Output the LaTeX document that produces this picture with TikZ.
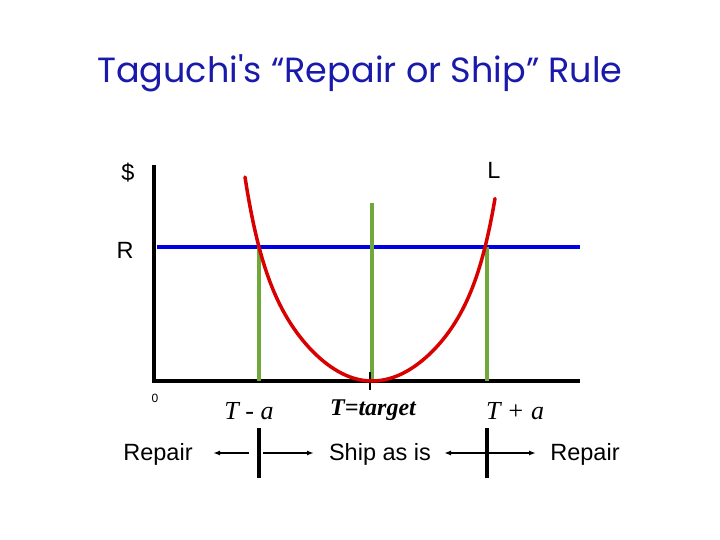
\documentclass[tikz,border=0pt]{standalone}
\usetikzlibrary{arrows.meta}
\usepackage{fontspec}
\setmainfont{Liberation Sans}
\newfontfamily\ttl{Poppins}
\newfontfamily\srf{Liberation Serif}
\begin{document}
\begin{tikzpicture}[x=1pt,y=-1pt,
  lbl/.style={font=\fontsize{23.5}{26}\selectfont},
  mth/.style={font=\srf\itshape\fontsize{26}{28}\selectfont},
  arr/.style={-{Latex[length=7pt,width=5pt]},line width=1.5pt},
  bar/.style={line width=3.5pt}]
\useasboundingbox (0,0) rectangle (720,540);
\node (title) at (360,73) {\ttl\fontsize{35}{40}\selectfont\color[RGB]{25,25,170}Taguchi's “Repair or Ship” Rule};
% axes
\coordinate (o) at (154,381);
\coordinate (ytop) at (154,165);
\coordinate (xend) at (580,381);
\draw[line width=4pt] (ytop) -- (o) -- (xend);
% blue line
\coordinate (r0) at (157,247); \coordinate (r1) at (580,247);
\draw[line width=3.5pt,color={rgb,255:red,0;green,0;blue,230}] (r0) -- (r1);
% green lines
\begin{scope}[line width=3.5pt,color={rgb,255:red,112;green,168;blue,60}]
\draw (259,247) -- (259,381);
\draw (372,203) -- (372,381);
\draw (487,247) -- (487,381);
\end{scope}
\draw[line width=2pt] (370,372) -- (370,390);
% red curve
\draw[line width=3.5pt,red!85!black,line cap=round] plot[domain=1.124:0,samples=60,smooth] ({372-113*\x},{381-107*\x*\x-27*\x^8})
  -- plot[domain=0:1.07,samples=60,smooth] ({372+115*\x},{381-107*\x*\x-27*\x^8*1.3});
% labels
\node[lbl] (d) at (128,173) {\$};
\node[lbl] (L) at (494,170) {L};
\node[lbl] (R) at (125,250) {R};
\node[font=\fontsize{12}{13}\selectfont] (z) at (155,398) {0};
\node[mth] (tm) at (249,411) {T - a};
\node[font=\srf\bfseries\itshape\fontsize{24}{26}\selectfont] (tt) at (373,410) {T=target};
\node[mth] (tp) at (515,411) {T + a};
\node[lbl] (rp1) at (158,454) {Repair};
\node[lbl] (ship) at (380,454) {Ship as is};
\node[lbl] (rp2) at (585,454) {Repair};
\coordinate (b1t) at (259,428); \coordinate (b1b) at (259,478);
\coordinate (b2t) at (487,428); \coordinate (b2b) at (487,478);
\draw[bar] (b1t) -- (b1b);
\draw[bar] (b2t) -- (b2b);
\draw[arr] (249,453) -- (213,453);
\draw[arr] (263,453) -- (314,453);
\draw[arr] (487,453) -- (444,453);
\draw[arr] (487,453) -- (536,453);
\end{tikzpicture}
\end{document}
